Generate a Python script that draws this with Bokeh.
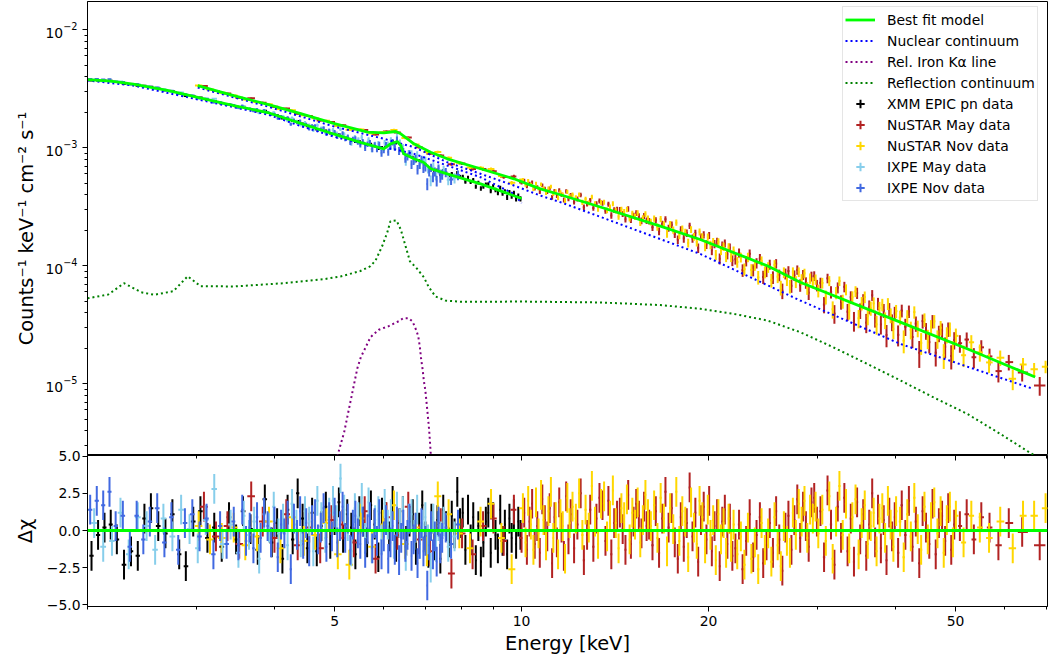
import numpy as np
from bokeh.plotting import figure
from bokeh.layouts import column
from bokeh.models import (ColumnDataSource, FixedTicker, LogTickFormatter,
                          CustomJSTickFormatter, Legend, LegendItem, Span,
                          LogAxis, Range1d)
from bokeh.embed import file_html
from bokeh.resources import INLINE

FONT = "DejaVu Sans"

# ---------------- ticks ----------------
x_major_ticks = [5, 10, 20, 50]
x_minor_ticks = [2, 3, 4, 6, 7, 8, 9, 30, 40, 60, 70]
y_major_ticks = [1e-5, 1e-4, 1e-3, 1e-2]
res_ticks = [-5.0, -2.5, 0.0, 2.5, 5.0]

# ---------------- model curves ----------------
model_lo_E = [2.00, 2.18, 2.37, 2.69, 3.01, 3.44, 3.90, 4.41, 4.98, 5.50,
              6.00, 6.15, 6.31, 6.39, 6.46, 6.71, 6.95, 7.14, 7.59, 8.59, 10.0]
model_lo_V = [3.78e-3, 3.68e-3, 3.47e-3, 3.06e-3, 2.67e-3, 2.28e-3, 1.99e-3, 1.61e-3, 1.31e-3, 1.11e-3,
              9.81e-4, 1.08e-3, 1.13e-3, 1.046e-3, 8.89e-4, 8.07e-4, 7.55e-4, 6.64e-4, 6.02e-4, 4.95e-4, 3.72e-4]
model_hi_E = [3.01, 3.44, 3.90, 4.41, 4.98, 5.65, 6.00, 6.27, 6.39, 6.55,
              6.71, 7.14, 7.59, 8.59, 9.72, 10.72, 11.55, 13.39, 16.73, 19.40,
              24.87, 28.10, 40.72, 52.18, 67.16]
model_hi_V = [3.37e-3, 2.77e-3, 2.33e-3, 1.95e-3, 1.61e-3, 1.36e-3, 1.34e-3, 1.374e-3, 1.314e-3, 1.192e-3,
              1.081e-3, 9.18e-4, 8.07e-4, 6.64e-4, 5.46e-4, 4.49e-4, 4.00e-4, 3.15e-4, 2.17e-4, 1.67e-4,
              1.00e-4, 7.26e-5, 3.33e-5, 1.98e-5, 1.14e-5]
nuc_hi_E = [3.01, 3.90, 4.98, 6.00, 6.71, 7.59, 8.59, 9.72, 10.72, 11.55,
            13.39, 16.73, 19.40, 24.87, 28.10, 40.72, 52.18, 66.6]
nuc_hi_V = [3.24e-3, 2.24e-3, 1.52e-3, 1.192e-3, 1.012e-3, 7.55e-4, 6.02e-4, 4.79e-4, 3.94e-4, 3.46e-4,
            2.60e-4, 1.684e-4, 1.26e-4, 6.86e-5, 5.08e-5, 2.18e-5, 1.40e-5, 9.07e-6]
nuc_lo_E = [2.00, 2.37, 3.01, 3.90, 4.41, 4.98, 5.65, 6.27, 6.71, 7.59, 8.59, 9.72, 10.0]
nuc_lo_V = [3.72e-3, 3.37e-3, 2.57e-3, 1.915e-3, 1.53e-3, 1.247e-3, 1.056e-3, 9.67e-4, 8.89e-4,
            7.08e-4, 5.63e-4, 4.07e-4, 3.40e-4]
iron_E = [5.02, 5.06, 5.18, 5.31, 5.44, 5.51, 5.61, 5.71, 5.89, 6.11,
          6.34, 6.45, 6.57, 6.67, 6.73, 6.78, 6.82, 6.86, 6.89, 6.93,
          6.96, 7.00, 7.03, 7.06, 7.10, 7.13, 7.16]
iron_V = [2.0e-6, 2.52e-6, 3.89e-6, 7.32e-6, 1.356e-5, 1.68e-5, 2.04e-5, 2.48e-5, 2.87e-5, 3.08e-5,
          3.39e-5, 3.60e-5, 3.60e-5, 3.39e-5, 3.06e-5, 2.77e-5, 2.50e-5, 2.04e-5, 1.63e-5, 1.32e-5,
          1.067e-5, 8.77e-6, 6.98e-6, 5.57e-6, 4.02e-6, 2.90e-6, 2.0e-6]
refl_E = [2.00, 2.16, 2.29, 2.44, 2.56, 2.75, 2.90, 3.04, 3.44, 4.14,
          4.80, 5.11, 5.50, 5.71, 5.82, 5.97, 6.08, 6.15, 6.29, 6.39,
          6.50, 6.61, 6.79, 6.96, 7.09, 7.27, 7.54, 7.98, 8.48, 9.96,
          13.39, 16.73, 19.40, 21.93, 24.87, 28.10, 31.76, 35.98, 40.72, 46.00,
          52.18, 58.96, 65.93, 71.0]
refl_V = [5.30e-5, 5.71e-5, 7.12e-5, 5.97e-5, 5.68e-5, 6.09e-5, 8.16e-5, 6.72e-5, 6.68e-5, 7.12e-5,
          7.70e-5, 8.11e-5, 9.03e-5, 9.92e-5, 1.109e-4, 1.486e-4, 1.926e-4, 2.39e-4, 2.42e-4, 2.03e-4,
          1.486e-4, 1.094e-4, 9.43e-5, 8.01e-5, 6.59e-5, 5.49e-5, 5.08e-5, 4.95e-5, 4.95e-5, 4.98e-5,
          4.89e-5, 4.65e-5, 4.32e-5, 3.92e-5, 3.44e-5, 2.74e-5, 2.04e-5, 1.48e-5, 1.07e-5, 7.70e-6,
          5.57e-6, 3.77e-6, 2.60e-6, 2.1e-6]

# ---------------- fractional 1-sigma errors vs energy ----------------
xmm_err_E = [2, 5, 7, 10]
xmm_err_f = [0.008, 0.012, 0.025, 0.05]
ixpe_err_E = [2, 3, 4, 5, 6, 7, 8]
ixpe_err_f = [0.012, 0.015, 0.025, 0.04, 0.06, 0.08, 0.10]
nustar_err_E = [3, 6, 10, 20, 30, 50, 70]
nustar_err_f = [0.015, 0.02, 0.035, 0.08, 0.12, 0.18, 0.15]

# ---------------- data bins: energies [keV] and residuals (delta chi) ----------------
xmm_E = [
    2.03, 2.08, 2.13, 2.18, 2.23, 2.29, 2.35, 2.41, 2.47, 2.53,
    2.60, 2.67, 2.74, 2.81, 2.88, 2.96, 3.04, 3.12, 3.20, 3.29,
    3.38, 3.47, 3.56, 3.66, 3.76, 3.86, 3.96,
    4.04, 4.12, 4.20, 4.28, 4.36, 4.44, 4.52, 4.60, 4.68, 4.76,
    4.84, 4.92, 5.00, 5.08, 5.16, 5.24, 5.32, 5.40, 5.48, 5.56,
    5.64, 5.72, 5.80, 5.88, 5.96, 6.04, 6.12, 6.20, 6.28, 6.36,
    6.44, 6.52, 6.60, 6.68, 6.76, 6.84, 6.92, 7.00, 7.08, 7.16,
    7.24, 7.32, 7.40, 7.48, 7.56, 7.64, 7.72, 7.80, 7.88, 7.96,
    8.04, 8.12, 8.20, 8.28, 8.36, 8.44, 8.52, 8.60, 8.68, 8.76,
    8.84, 8.92, 9.00, 9.08, 9.16, 9.24, 9.32, 9.40, 9.48, 9.56,
    9.64, 9.72, 9.80, 9.88, 9.96]
xmm_R = [
    -1.7, -0.3, 0.2, 0.4, -0.6, -2.3, -1.4, -1.7, 0.8, 1.5,
    0.3, -0.2, 1.1, -1.6, -2.4, 0.6, 1.3, -0.5, 0.2, -1.1,
    0.9, -0.6, 1.3, 0.1, -1.3, 2.1, -0.8,
    0.5, -1.9, 1.4, -0.6, 2.5, 0.8, -1.2, 1.2, -1.4, 0.3,
    1.6, -0.9, 0.7, 1.9, -0.5, 1.1, 0.2, -1.6, 1.3, 0.6,
    -0.8, 1.7, 0.4, -1.8, 1.2, 0.9, -0.4, 2.0, -1.1, 0.5,
    1.3, -0.7, 0.6, 1.1, -1.3, 0.2, 1.7, -0.4, -1.5, 0.8,
    -1.0, 0.7, -1.9, 1.4, 0.3, -0.8, 1.0, -0.2, 2.6, 0.5,
    1.2, -1.3, 1.4, -0.6, 0.9, -2.0, 0.3, -2.1, -0.8, 0.6,
    1.2, -1.5, 0.9, -0.3, -1.2, 1.4, -0.7, 0.4, -1.6, 0.8,
    -0.5, 1.1, -0.9, 0.6, -0.3]

ixpe_may_E = [
    2.05, 2.12, 2.19, 2.26, 2.33, 2.41, 2.49, 2.57, 2.65, 2.74,
    2.83, 2.92, 3.01, 3.10, 3.20, 3.30, 3.40, 3.50,
    3.57, 3.64, 3.71, 3.78, 3.85, 3.92, 3.99, 4.06, 4.13, 4.20,
    4.27, 4.34, 4.41, 4.48, 4.55, 4.62, 4.69, 4.76, 4.83, 4.90,
    4.97, 5.04, 5.11, 5.18, 5.25, 5.32, 5.39, 5.46, 5.53, 5.60,
    5.67, 5.74, 5.81, 5.88, 5.95, 6.02, 6.09, 6.16, 6.23, 6.30,
    6.37, 6.44, 6.51, 6.58, 6.65, 6.72, 6.79, 6.86, 6.93, 7.00,
    7.07, 7.14, 7.21, 7.28, 7.35, 7.42, 7.49,
    7.62, 7.80]
ixpe_may_R = [
    0.5, -1.1, -0.7, 1.2, -1.6, 0.9, 0.3, -1.3, 0.8, -0.4,
    1.4, 0.1, -1.2, 0.7, 2.8, -0.9, 0.4, -1.5,
    1.0, -0.3, 0.6, -1.9, 1.1, 0.2, 1.6, -0.2, 0.8, -1.0,
    1.8, 0.4, -0.8, 1.3, 0.6, -1.4, 2.0, 0.9, -0.5, 1.2,
    2.0, 0.7, 3.5, 1.4, 0.3, -1.4, 1.5, 0.9, 2.2, -0.5,
    1.9, -1.2, 0.7, 1.3, -0.6, 1.8, 0.4, 1.1, -0.9, 1.6,
    0.5, 1.3, -1.7, 0.8, 1.1, -0.3, 1.4, -0.9, 0.4, 0.9,
    -0.6, -2.5, 0.8, -1.1, 0.3, -0.4, 0.6,
    -1.1, -0.4]

ixpe_nov_E = [
    2.02, 2.07, 2.12, 2.17, 2.22, 2.28, 2.34, 2.40, 2.46, 2.52,
    2.59, 2.66, 2.73, 2.80, 2.87, 2.95, 3.03, 3.11, 3.19, 3.27,
    3.35, 3.44,
    3.50, 3.55, 3.60, 3.65, 3.70, 3.75, 3.80, 3.85, 3.90, 3.95,
    4.00, 4.05, 4.10, 4.15, 4.20, 4.25, 4.30, 4.35, 4.40, 4.45,
    4.50, 4.55, 4.60, 4.65, 4.70, 4.75, 4.80, 4.85, 4.90, 4.95,
    5.00, 5.05, 5.10, 5.15, 5.20, 5.25, 5.30, 5.35, 5.40, 5.45,
    5.50, 5.55, 5.60, 5.65, 5.70, 5.75, 5.80, 5.85, 5.90, 5.95,
    6.00, 6.05, 6.10, 6.15, 6.20, 6.25, 6.30, 6.35, 6.40, 6.45,
    6.50, 6.55, 6.60, 6.65, 6.70, 6.75, 6.80, 6.85, 6.90, 6.95,
    7.00, 7.05, 7.10, 7.15, 7.20, 7.25, 7.30, 7.35, 7.40, 7.45,
    7.55, 7.70, 7.90]
ixpe_nov_R = [
    1.4, 2.0, 1.7, 2.6, 0.3, 1.0, -1.1, 1.0, -0.6, 0.6,
    1.5, -0.8, 0.9, -1.3, 0.5, 1.1, -0.4, 0.8, -1.6, 0.3,
    -0.9, 0.6,
    -1.0, 1.4, -0.7, 0.2, -1.2, 0.9, -0.5, 1.2, 0.3, -0.8,
    0.6, -1.8, 0.4, -0.2, 1.0, -2.6, 0.8, -0.3, 1.3, -0.9,
    0.5, -1.4, 0.7, 1.1, -0.6, 0.2, 1.5, -1.1, 0.9, -0.4,
    1.2, -0.8, 0.3, 1.6, -0.5, 0.8, -1.3, 0.4, 1.0, -0.2,
    -0.9, 0.6, -1.5, 0.1, 0.9, -1.2, 0.5, -0.7, 1.1, -1.6,
    -0.4, 0.7, -1.9, -0.8, 0.3, -1.3, 0.6, -2.0, -0.5, 0.4,
    -1.1, -0.3, 0.8, -1.7, -0.6, 0.2, -2.2, -0.9, 0.5, -1.4,
    -0.7, -3.7, -1.0, 0.3, -1.6, -0.4, -2.1, 0.6, -1.2, -0.5,
    0.2, -0.9, 0.4]

nustar_may_E = [
    3.08, 3.22, 3.36, 3.51, 3.67, 3.83, 4.00, 4.18, 4.36, 4.55,
    4.74, 4.94, 5.15, 5.37, 5.59, 5.82, 6.06, 6.31, 6.57, 6.84,
    7.12, 7.41, 7.71, 8.02, 8.34, 8.67, 9.01, 9.36, 9.72,
    10.0, 10.1, 10.2, 10.3, 10.4, 10.5, 10.6, 10.7, 10.8, 10.9,
    11.0, 11.1, 11.2, 11.3, 11.4, 11.5, 11.6, 11.7, 11.8, 11.9,
    12.0, 12.15, 12.3, 12.45, 12.6, 12.75, 12.9, 13.05, 13.2, 13.35,
    13.5, 13.65, 13.8, 13.95, 14.1, 14.25, 14.4, 14.55, 14.7, 14.85,
    15.0, 15.15, 15.3, 15.45, 15.6, 15.75, 15.9,
    16.05, 16.25, 16.45, 16.65, 16.85, 17.05, 17.25, 17.45, 17.65, 17.85,
    18.05, 18.25, 18.45, 18.65, 18.85, 19.05, 19.25, 19.45, 19.65, 19.85,
    20.05, 20.25, 20.45, 20.65, 20.85, 21.05, 21.25, 21.45, 21.65, 21.85,
    22.1, 22.4, 22.7, 23.0, 23.3, 23.6, 23.9, 24.2, 24.5, 24.8,
    25.1, 25.4, 25.7, 26.0, 26.3, 26.6, 26.9, 27.2, 27.5, 27.8,
    28.1, 28.4, 28.7, 29.0, 29.3, 29.6, 29.9,
    30.3, 30.7, 31.1, 31.5, 31.9, 32.3, 32.7, 33.1, 33.5, 33.9,
    34.3, 34.7, 35.1, 35.5, 35.9, 36.3, 36.7, 37.1, 37.5, 37.9,
    38.3, 38.7, 39.1, 39.5, 39.9,
    40.4, 40.95, 41.5, 42.05, 42.6, 43.15, 43.7, 44.25, 44.8, 45.35,
    45.9, 46.45, 47.0, 47.55, 48.1, 48.65, 49.2, 49.75,
    50.8, 52.1, 53.5, 55.0, 56.7, 58.6, 60.9, 64.0, 68.3]
nustar_may_R = [
    1.6, -0.4, 0.3, -0.9, 2.3, 0.6, -0.5, 1.1, -1.0, 0.2,
    -1.2, 0.7, 0.4, -0.8, 1.3, -1.9, 0.9, -0.3, 1.6, -0.6,
    -1.4, 0.5, -2.9, -0.2, -1.6, 0.3, 0.8, -0.7, 1.4,
    -0.5, 1.2, -1.3, 0.6, 1.8, -0.9, 0.3, -1.5, 2.1, 0.7,
    -0.4, 1.5, -2.2, 0.9, -0.8, 1.9, 0.2, -1.7, 2.3, -0.6,
    1.1, -1.2, 0.4, 2.5, -2.0, -0.3, 1.4, -1.1, 0.8, 2.2,
    1.7, -0.7, 2.0, -1.6, 0.5, 1.0, 1.2, 0.1, -1.3, 2.4,
    -0.9, 0.6, 1.8, 1.0, -0.2, 1.6, 0.3,
    0.4, -1.0, 1.3, -1.5, 0.8, 2.6, 0.2, 1.5, -0.8, -1.9,
    0.9, -1.1, 0.5, 2.9, -0.4, 1.2, -2.1, 0.7, 1.6, -0.6,
    2.0, -1.4, 0.3, 1.1, -2.4, 0.6, 1.4, -0.9, 0.8, -1.7,
    -1.2, 0.4, -2.6, -0.7, 1.1, -1.8, -0.3, 0.9, -2.2, -1.0,
    0.5, -1.5, 1.3, -0.6, -2.7, 0.2, 1.0, -1.3, 0.7, 2.1,
    -0.5, 1.6, 0.3, -1.1, 1.9, 2.2, 0.6,
    1.3, -1.8, 2.7, 0.4, -2.3, 1.6, -0.5, 2.2, -1.4, 0.8,
    -2.1, 1.9, -0.6, 1.1, -1.7, 0.4, 2.5, -0.8, 1.4, -1.2,
    0.7, -2.0, 1.2, -0.4, 0.9,
    -1.5, 1.7, -0.3, 2.0, -1.1, 0.6, -2.2, 1.3, 0.2, -0.9,
    1.8, -1.6, 0.5, 1.0, -0.7, 1.5, -1.3, 0.4,
    0.3, 1.1, -0.6, 0.9, 0.2, -1.0, 0.5, -0.1, -1.0]

nustar_nov_E = [
    3.02, 3.15, 3.29, 3.44, 3.59, 3.75, 3.92, 4.09, 4.27, 4.46,
    4.65, 4.85, 5.06, 5.28, 5.51, 5.74, 5.98, 6.23, 6.49, 6.76,
    7.04, 7.33, 7.63, 7.94, 8.26, 8.59, 8.93, 9.28, 9.64,
    10.05, 10.15, 10.25, 10.35, 10.45, 10.55, 10.65, 10.75, 10.85, 10.95,
    11.05, 11.15, 11.25, 11.35, 11.45, 11.55, 11.65, 11.75, 11.85, 11.95,
    12.08, 12.23, 12.38, 12.53, 12.68, 12.83, 12.98, 13.13, 13.28, 13.43,
    13.58, 13.73, 13.88, 14.03, 14.18, 14.33, 14.48, 14.63, 14.78, 14.93,
    15.08, 15.23, 15.38, 15.53, 15.68, 15.83, 15.98,
    16.15, 16.35, 16.55, 16.75, 16.95, 17.15, 17.35, 17.55, 17.75, 17.95,
    18.15, 18.35, 18.55, 18.75, 18.95, 19.15, 19.35, 19.55, 19.75, 19.95,
    20.15, 20.35, 20.55, 20.75, 20.95, 21.15, 21.35, 21.55, 21.75, 21.95,
    22.25, 22.55, 22.85, 23.15, 23.45, 23.75, 24.05, 24.35, 24.65, 24.95,
    25.25, 25.55, 25.85, 26.15, 26.45, 26.75, 27.05, 27.35, 27.65, 27.95,
    28.25, 28.55, 28.85, 29.15, 29.45, 29.75, 30.05,
    30.5, 30.9, 31.3, 31.7, 32.1, 32.5, 32.9, 33.3, 33.7, 34.1,
    34.5, 34.9, 35.3, 35.7, 36.1, 36.5, 36.9, 37.3, 37.7, 38.1,
    38.5, 38.9, 39.3, 39.7, 40.1,
    40.7, 41.25, 41.8, 42.35, 42.9, 43.45, 44.0, 44.55, 45.1, 45.65,
    46.2, 46.75, 47.3, 47.85, 48.4, 48.95, 49.5, 50.05,
    51.5, 53.0, 54.7, 56.6, 59.0, 61.8, 64.2, 66.9, 69.8]
nustar_nov_R = [
    0.3, -0.6, -0.5, 0.2, -1.0, -0.4, 0.6, -1.2, 0.9, -0.7,
    -0.3, 0.5, -1.6, -2.3, 0.8, -1.1, 0.4, 1.7, -0.9, 0.2,
    -1.4, 2.3, 1.1, -0.2, -1.2, 0.6, 1.8, -0.5, -2.6,
    1.5, -0.8, 2.0, 0.4, -1.3, 1.9, -0.2, 2.4, 0.7, -1.0,
    1.3, 2.6, -0.5, 0.9, -1.6, 1.1, 0.3, -1.9, 2.2, 0.5,
    1.6, 0.8, 2.5, -0.3, 1.4, 0.2, 3.0, 0.6, -0.9, 1.8,
    2.3, -0.4, 1.0, 2.7, 0.5, -1.2, 1.5, 0.9, 2.1, -0.6,
    1.2, 0.4, 1.9, -0.8, 0.7, 2.4, 1.1,
    0.3, 1.7, -0.5, 2.2, 0.8, -1.4, 1.5, 0.1, 2.6, -0.7,
    1.3, 0.6, -1.8, 1.9, 0.2, -0.9, 2.0, 0.9, -1.2, 1.4,
    -0.3, 0.7, -2.0, 1.1, -0.6, 0.5, -1.5, 0.8, -1.1, 0.4,
    -1.6, -0.4, -2.3, 0.2, -1.9, -0.8, -2.6, 0.5, -1.3, -0.2,
    -2.1, 0.9, -1.0, -2.4, 0.3, -0.7, -1.5, 1.2, -0.3, 1.8,
    0.6, 2.0, -0.5, 1.4, 0.8, 1.6, -0.2,
    1.4, -0.7, 2.3, -1.9, 0.6, 3.0, -0.3, 1.8, -1.2, 0.9,
    2.1, -1.6, 0.5, 1.7, -0.9, 0.3, 1.2, -1.4, 0.8, 1.5,
    -0.5, 2.0, 0.4, -1.1, 1.3,
    0.6, -1.8, 1.1, -0.4, 2.2, 0.1, -1.3, 1.6, -0.6, 0.9,
    1.9, -0.2, 1.3, -1.5, 0.7, 1.6, -0.8, 1.0,
    -0.8, 1.0, 0.2, -0.5, 0.6, -1.2, 1.0, 1.0, 1.5]

# ---------------- helpers ----------------
def loginterp(E, xs, ys):
    return 10 ** np.interp(np.log10(E), np.log10(xs), np.log10(ys))


def bin_bars(E, frac=0.65):
    """horizontal error-bar ends: a fraction of the half-way distance to the neighbouring bins"""
    E = np.asarray(E, dtype=float)
    mid = np.sqrt(E[1:] * E[:-1])
    lo = np.concatenate([[E[0] ** 2 / mid[0]], mid])
    hi = np.concatenate([mid, [E[-1] ** 2 / mid[-1]]])
    return E * (lo / E) ** frac, E * (hi / E) ** frac


series = [
    ("XMM EPIC pn data", "black", xmm_E, xmm_R, (model_lo_E, model_lo_V), (xmm_err_E, xmm_err_f)),
    ("NuSTAR May data", "#b22222", nustar_may_E, nustar_may_R, (model_hi_E, model_hi_V), (nustar_err_E, nustar_err_f)),
    ("NuSTAR Nov data", "#ffd700", nustar_nov_E, nustar_nov_R, (model_hi_E, model_hi_V), (nustar_err_E, nustar_err_f)),
    ("IXPE May data", "#87ceeb", ixpe_may_E, ixpe_may_R, (model_lo_E, model_lo_V), (ixpe_err_E, ixpe_err_f)),
    ("IXPE Nov data", "#4169e1", ixpe_nov_E, ixpe_nov_R, (model_lo_E, model_lo_V), (ixpe_err_E, ixpe_err_f)),
]

xr = Range1d(2.0, 70.3)
W = 1052

# ---------------- top panel (frame 1..455 px) ----------------
p1 = figure(width=W, height=455, x_axis_type="log", y_axis_type="log",
            x_range=xr, y_range=Range1d(2.468e-6, 1.737e-2),
            output_backend="svg", toolbar_location=None,
            min_border_left=87, min_border_right=5, min_border_top=1, min_border_bottom=0)

# ---------------- bottom panel (overlaps 8 px so its top label is not cut) ----------------
p2 = figure(width=W, height=210, x_axis_type="log",
            x_range=xr, y_range=Range1d(-5.114, 5.047),
            output_backend="svg", toolbar_location=None,
            min_border_left=87, min_border_right=5, min_border_top=8, min_border_bottom=51)
p2.margin = (-8, 0, 0, 0)

for p in (p1, p2):
    p.xgrid.visible = False
    p.ygrid.visible = False
    p.outline_line_color = "black"
    p.outline_line_width = 1
    p.outline_line_alpha = 1.0
    p.background_fill_color = "white"
p1.border_fill_color = "white"
p2.border_fill_alpha = 0.0

legend_dummies = []
for label, color, E, R, (mE, mV), (eE, ef) in series:
    n = min(len(E), len(R))
    E = np.asarray(E[:n], dtype=float)
    R = np.asarray(R[:n], dtype=float)
    lo, hi = bin_bars(E)
    M = loginterp(E, mE, mV)
    f = np.interp(np.log10(E), np.log10(eE), ef)
    sig = f * M
    C = M + R * sig
    top = ColumnDataSource(dict(x=E, y=C, ylo=C - sig, yhi=C + sig, xlo=lo, xhi=hi))
    p1.segment(x0="x", y0="ylo", x1="x", y1="yhi", source=top, line_color=color, line_width=2)
    p1.segment(x0="xlo", y0="y", x1="xhi", y1="y", source=top, line_color=color, line_width=2)
    bot = ColumnDataSource(dict(x=E, y=R, ylo=R - 1, yhi=R + 1, xlo=lo, xhi=hi))
    p2.segment(x0="x", y0="ylo", x1="x", y1="yhi", source=bot, line_color=color, line_width=2)
    p2.segment(x0="xlo", y0="y", x1="xhi", y1="y", source=bot, line_color=color, line_width=2)
    # zero-size cross markers on the data: only their legend glyph is visible
    d = p1.scatter(x="x", y="y", source=top, marker="cross", size=0,
                   line_color=color, line_width=2)
    legend_dummies.append((label, d))

r_refl = p1.line(refl_E, refl_V, line_color="#008000", line_width=2, line_dash="2 3")
r_iron = p1.line(iron_E, iron_V, line_color="#800080", line_width=2, line_dash="2 3")
r_nuc1 = p1.line(nuc_lo_E, nuc_lo_V, line_color="#0000ff", line_width=2, line_dash="2 3")
r_nuc2 = p1.line(nuc_hi_E, nuc_hi_V, line_color="#0000ff", line_width=2, line_dash="2 3")
r_mod1 = p1.line(model_lo_E, model_lo_V, line_color="#00ff00", line_width=2.8)
r_mod2 = p1.line(model_hi_E, model_hi_V, line_color="#00ff00", line_width=2.8)

p2.add_layout(Span(location=0, dimension="width", line_color="#00ff00", line_width=2.8))

# ---------------- axes ----------------
def style_axis(ax, label_size="13.9px"):
    ax.axis_line_color = "black"
    ax.axis_line_width = 1
    ax.major_tick_line_color = "black"
    ax.minor_tick_line_color = "black"
    ax.major_tick_out = 5
    ax.major_tick_in = 0
    ax.minor_tick_out = 3
    ax.minor_tick_in = 0
    ax.major_label_text_font = FONT
    ax.major_label_text_font_size = label_size
    ax.major_label_text_color = "black"
    ax.major_label_standoff = 5
    ax.axis_label_text_font = FONT
    ax.axis_label_text_font_size = "19.4px"
    ax.axis_label_text_font_style = "normal"
    ax.axis_label_text_color = "black"

xticker = FixedTicker(ticks=x_major_ticks, minor_ticks=x_minor_ticks)

p1.xaxis.visible = False
y_minor = [m * 10.0 ** k for k in range(-6, -1) for m in range(2, 10)]
p1.yaxis.ticker = FixedTicker(ticks=y_major_ticks, minor_ticks=y_minor)
p1.yaxis.formatter = LogTickFormatter()
p1.yaxis.axis_label = "Counts\u207b\u00b9 keV\u207b\u00b9 cm\u207b\u00b2 s\u207b\u00b9"
style_axis(p1.yaxis[0])
p1.yaxis.major_label_standoff = 5
p1.yaxis.axis_label_standoff = 4

p2.xaxis.ticker = xticker
p2.xaxis.formatter = CustomJSTickFormatter(code="return tick.toFixed(0);")
p2.xaxis.axis_label = "Energy [keV]"
style_axis(p2.xaxis[0])
p2.xaxis.major_label_standoff = 4
p2.xaxis.axis_label_standoff = 3

p2.yaxis.ticker = FixedTicker(ticks=res_ticks, minor_ticks=[])
p2.yaxis.formatter = CustomJSTickFormatter(code="return tick.toFixed(1).replace('-', '\u2212');")
p2.yaxis.axis_label = "\u0394\u03c7"
style_axis(p2.yaxis[0])
p2.yaxis.major_label_standoff = 2
p2.yaxis.axis_label_standoff = 7

# energy ticks of the upper panel, pointing down into the lower panel
top_ax = LogAxis(ticker=xticker, formatter=CustomJSTickFormatter(code="return '';"))
style_axis(top_ax, label_size="0px")
top_ax.major_tick_out = 0
top_ax.minor_tick_out = 0
top_ax.major_tick_in = 5
top_ax.minor_tick_in = 3
top_ax.major_label_standoff = 0
p2.add_layout(top_ax, "above")

# ---------------- legend ----------------
items = [
    LegendItem(label="Best fit model", renderers=[r_mod2]),
    LegendItem(label="Nuclear continuum", renderers=[r_nuc2]),
    LegendItem(label="Rel. Iron K\u03b1 line", renderers=[r_iron]),
    LegendItem(label="Reflection continuum", renderers=[r_refl]),
] + [LegendItem(label=lab, renderers=[rd]) for lab, rd in legend_dummies]

legend = Legend(items=items, location=(755, 254),
                label_text_font=FONT, label_text_font_size="13.9px", label_text_color="black",
                label_height=21, glyph_height=21, glyph_width=30, spacing=0,
                padding=2, margin=0, label_standoff=12,
                border_line_color="#cccccc", border_line_width=1,
                background_fill_color="white", background_fill_alpha=0.8)
p1.add_layout(legend)

layout = column(p1, p2)
open("out.html", "w").write(file_html(layout, INLINE))
